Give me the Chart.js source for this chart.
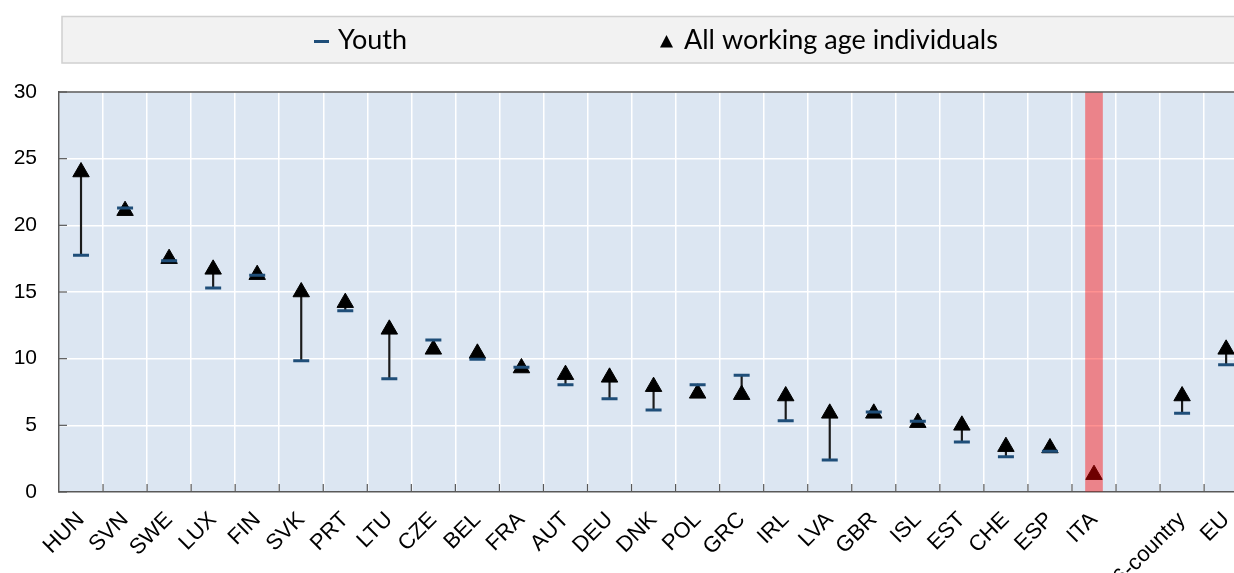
<!DOCTYPE html>
<html>
<head>
<meta charset="utf-8">
<script src="https://cdn.jsdelivr.net/npm/chart.js@4/dist/chart.umd.min.js"></script>
<style>
  html, body { margin: 0; padding: 0; background: #fff; overflow: hidden; }
  canvas { display: block; }
</style>
</head>
<body>
<canvas id="chart" width="1260" height="573"></canvas>
<script>
// DATA
const countries = ["HUN","SVN","SWE","LUX","FIN","SVK","PRT","LTU","CZE","BEL","FRA","AUT","DEU",
  "DNK","POL","GRC","IRL","LVA","GBR","ISL","EST","CHE","ESP","ITA","","26-country","EU"];
const youth = [17.75,21.3,17.35,15.3,16.25,9.85,13.6,8.5,11.4,9.95,9.35,8.05,7.0,
  6.15,8.05,8.75,5.35,2.4,6.0,5.3,3.75,2.65,3.05,null,null,5.9,9.55];
const allWorking = [24.0,21.1,17.5,16.7,16.3,15.0,14.2,12.2,10.7,10.4,9.3,8.8,8.6,
  7.9,7.4,7.3,7.2,5.9,5.9,5.2,5.0,3.4,3.3,1.3,null,7.2,10.7];
const highlight = [null,null,null,null,null,null,null,null,null,null,null,null,null,
  null,null,null,null,null,null,null,null,null,null,30,null,null,null];
const yTicks = [0,5,10,15,20,25,30];

// gap between youth and all ages, drawn as a thin floating bar
const gap = countries.map((c,i) =>
  (youth[i] != null && allWorking[i] != null) ? [youth[i], allWorking[i]] : null);

const BLUE = "#1f4e79";

// PLOT BACKGROUND + FRAME
const plotFrame = {
  id: "plotFrame",
  beforeDraw(chart){
    const {ctx, chartArea: a} = chart;
    ctx.save();
    ctx.fillStyle = "#dce6f2";
    ctx.fillRect(a.left, a.top, a.right - a.left, a.bottom - a.top);
    ctx.restore();
  },
  afterDraw(chart){
    const {ctx, chartArea: a, scales: {x, y}} = chart;
    ctx.save();
    ctx.strokeStyle = "#595959";
    ctx.lineWidth = 1.5;
    ctx.beginPath(); ctx.moveTo(a.left, a.top); ctx.lineTo(a.right, a.top); ctx.stroke();
    ctx.lineWidth = 1.2;
    y.ticks.forEach(t => {
      const py = y.getPixelForValue(t.value);
      ctx.beginPath(); ctx.moveTo(a.left, py); ctx.lineTo(a.left + 8, py); ctx.stroke();
    });
    const n = countries.length, w = (a.right - a.left) / n;
    for (let i = 1; i < n; i++){
      const px = a.left + i * w;
      ctx.beginPath(); ctx.moveTo(px, a.bottom); ctx.lineTo(px, a.bottom - 8); ctx.stroke();
    }
    ctx.restore();
  }
};

// LEGEND (boxed, like the original)
const boxLegend = {
  id: "boxLegend",
  afterDraw(chart){
    const ctx = chart.ctx;
    ctx.save();
    ctx.fillStyle = "#f2f2f2";
    ctx.strokeStyle = "#d0d0d0";
    ctx.lineWidth = 1.5;
    ctx.fillRect(62, 16.5, 1300, 46.5);
    ctx.strokeRect(62, 16.5, 1300, 46.5);

    ctx.font = "27px Lato, 'Open Sans', sans-serif";
    ctx.textBaseline = "middle";
    ctx.fillStyle = "#000";

    ctx.strokeStyle = BLUE; ctx.lineWidth = 3;
    ctx.beginPath(); ctx.moveTo(314, 41.5); ctx.lineTo(329, 41.5); ctx.stroke();
    ctx.fillText(chart.data.datasets[1].label, 338, 40);

    ctx.beginPath();
    ctx.moveTo(666.5, 35); ctx.lineTo(673, 47.5); ctx.lineTo(660, 47.5); ctx.closePath();
    ctx.fill();
    ctx.fillText(chart.data.datasets[2].label, 684, 40);
    ctx.restore();
  }
};

new Chart(document.getElementById("chart"), {
  type: "bar",
  data: {
    labels: countries,
    datasets: [
      { type: "bar", label: "ITA", data: highlight, order: 0, grouped: false,
        barThickness: 17, backgroundColor: "rgba(255,0,0,0.43)" },
      { type: "line", label: "Youth", data: youth, order: 1, showLine: false,
        pointStyle: "line", pointRadius: 8, pointBorderWidth: 3,
        pointBorderColor: BLUE, borderColor: BLUE },
      { type: "line", label: "All working age individuals", data: allWorking, order: 2,
        showLine: false, pointStyle: "triangle", pointRadius: 9.5, pointBorderWidth: 1,
        pointBackgroundColor: "#000", pointBorderColor: "#000" },
      { type: "bar", label: "gap", data: gap, order: 3, grouped: false,
        barThickness: 1.5, backgroundColor: "#1a1a1a" }
    ]
  },
  options: {
    responsive: false,
    devicePixelRatio: 1,
    animation: false,
    layout: { padding: { top: 92, right: 2, left: 0, bottom: 0 } },
    plugins: { legend: { display: false }, tooltip: { enabled: false } },
    scales: {
      x: {
        offset: true,
        grid: { color: "#ffffff", lineWidth: 1.5, offset: true, drawTicks: false },
        border: { color: "#595959", width: 1.5 },
        ticks: {
          autoSkip: false, minRotation: 45, maxRotation: 45, padding: 15,
          color: "#000", font: { family: "'Liberation Sans', Arial", size: 22 }
        },
        afterFit(s){ s.height = 81; }
      },
      y: {
        min: 0, max: 30,
        afterBuildTicks(s){ s.ticks = yTicks.map(v => ({ value: v })); },
        grid: { color: "#ffffff", lineWidth: 1.5, drawTicks: false },
        border: { color: "#595959", width: 1.5 },
        ticks: {
          padding: 22, color: "#000",
          font: { family: "'Liberation Sans', Arial", size: 21 }
        },
        afterFit(s){ s.width = 59; }
      }
    }
  },
  plugins: [plotFrame, boxLegend]
});
</script>
</body>
</html>
